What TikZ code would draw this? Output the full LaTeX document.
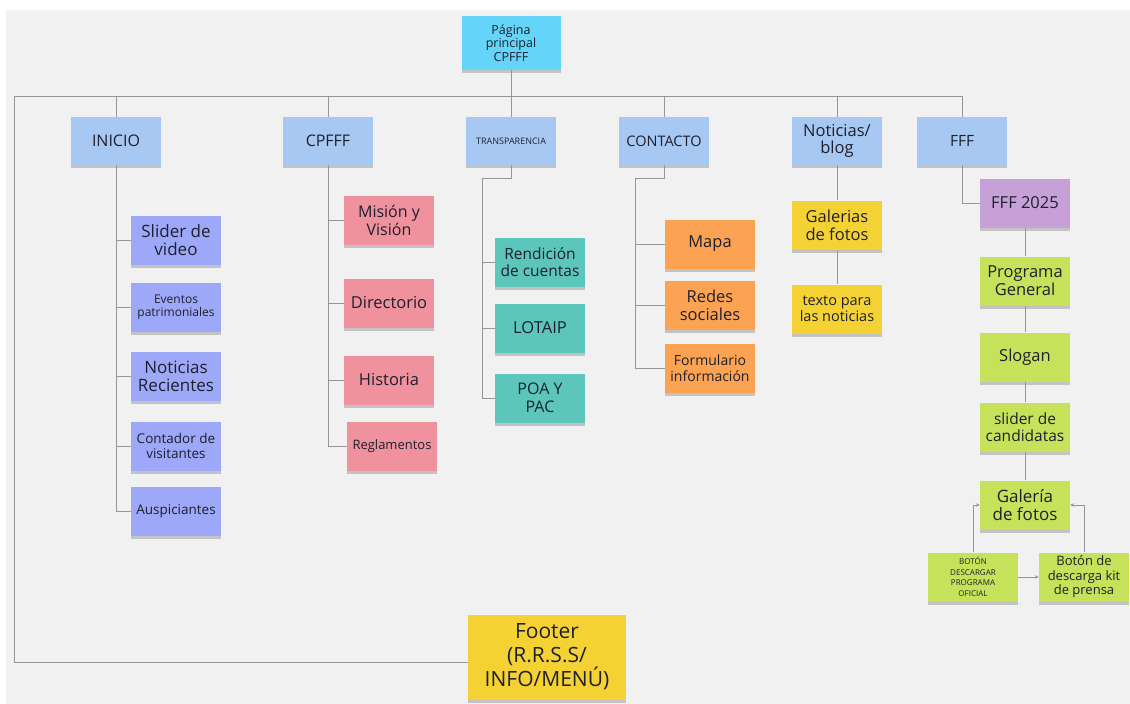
\documentclass[tikz,border=0pt]{standalone}
\usepackage{fontspec}
\setmainfont{Open Sans}
\usepackage{tikz}
\usetikzlibrary{shadows,arrows.meta}

\definecolor{paper}{RGB}{241,241,241}
\definecolor{ink}{RGB}{30,32,46}
\definecolor{wire}{RGB}{150,150,150}
\definecolor{homecyan}{RGB}{100,212,248}
\definecolor{menublue}{RGB}{167,200,242}
\definecolor{inicioblue}{RGB}{158,168,248}
\definecolor{cpfffpink}{RGB}{240,145,158}
\definecolor{transpteal}{RGB}{92,198,188}
\definecolor{contorange}{RGB}{251,163,82}
\definecolor{blogyellow}{RGB}{245,210,52}
\definecolor{ffflilac}{RGB}{200,160,216}
\definecolor{fffgreen}{RGB}{198,226,90}

\newcommand{\fz}[2]{\fontsize{#1}{#2}\selectfont}

\tikzset{
  note/.style={minimum width=90pt, minimum height=49pt, inner sep=1pt,
    align=center, text=ink,
    drop shadow={shadow xshift=0pt, shadow yshift=-3pt, opacity=.4}},
  menu/.style={note, fill=menublue, minimum height=48pt, font=\fz{16}{17}},
  kid/.style={note, font=\fz{16.5}{18}},
  link/.style={draw=wire, line width=.8pt},
  arr/.style={link, -{Stealth[length=4pt,width=3.5pt]}}
}

\begin{document}
\begin{tikzpicture}[x=1pt,y=-1pt]
  \useasboundingbox (0,0) rectangle (1130,704);
  \fill[white] (0,0) rectangle (1130,704);
  \fill[paper] (6,10) rectangle (1130,704);

  % top of the site
  \node[note, fill=homecyan, minimum width=99pt, minimum height=54pt, font=\fz{12.5}{13.5}] (home) at (511,43) {Página\\principal\\CPFFF};
  \node[menu] (inicio) at (116,141) {INICIO};
  \node[menu] (cpfff) at (328,141) {CPFFF};
  \node[menu, font=\fz{9}{10}] (transp) at (511,141) {TRANSPARENCIA};
  \node[menu, font=\fz{14.5}{16}] (contacto) at (664,141) {CONTACTO};
  \node[menu, font=\fz{16.5}{17}] (blog) at (837,141) {Noticias/\\blog};
  \node[menu, font=\fz{15.5}{17}] (fff) at (962,141) {FFF};

  \coordinate (barL) at (14,96);
  \coordinate (barR) at (962,96);
  \draw[link] (barL) -- (barR);
  \draw[link] (home) -- (transp);
  \foreach \n in {inicio,cpfff,contacto,blog,fff}
    \draw[link] (\n) -- (\n |- barL);

  % INICIO
  \node[kid, fill=inicioblue, font=\fz{17}{18}] (slider) at (176,240) {Slider de\\video};
  \node[kid, fill=inicioblue, font=\fz{12}{13}] (eventos) at (176,307) {Eventos\\patrimoniales};
  \node[kid, fill=inicioblue, font=\fz{17}{18}] (recientes) at (176,376) {Noticias\\Recientes};
  \node[kid, fill=inicioblue, font=\fz{13.5}{15}] (contador) at (176,446) {Contador de\\visitantes};
  \node[kid, fill=inicioblue, font=\fz{13.5}{15}] (ausp) at (176,511) {Auspiciantes};
  \foreach \n in {slider,eventos,recientes,contador,ausp}
    \draw[link] (inicio.south) |- (\n.west);

  % CPFFF
  \node[kid, fill=cpfffpink, font=\fz{16}{18}] (mision) at (389,220) {Misión y\\Visión};
  \node[kid, fill=cpfffpink] (directorio) at (389,303) {Directorio};
  \node[kid, fill=cpfffpink] (historia) at (389,380) {Historia};
  \node[kid, fill=cpfffpink, font=\fz{13}{14}] (reglas) at (392,446) {Reglamentos};
  \foreach \n in {mision,directorio,historia,reglas}
    \draw[link] (cpfff.south) |- (\n.west);

  % TRANSPARENCIA
  \node[kid, fill=transpteal, font=\fz{15.5}{17}] (rendicion) at (540,262) {Rendición\\de cuentas};
  \node[kid, fill=transpteal] (lotaip) at (540,328) {LOTAIP};
  \node[kid, fill=transpteal, font=\fz{16}{18}] (poa) at (540,398) {POA Y\\PAC};
  \coordinate (tk) at (482,178);
  \draw[link] (transp.south) |- (tk);
  \foreach \n in {rendicion,lotaip,poa}
    \draw[link] (tk) |- (\n.west);

  % CONTACTO
  \node[kid, fill=contorange] (mapa) at (710,244) {Mapa};
  \node[kid, fill=contorange, font=\fz{16.5}{18}] (redes) at (710,305) {Redes\\sociales};
  \node[kid, fill=contorange, font=\fz{14}{15.5}] (formulario) at (710,368) {Formulario\\información};
  \coordinate (ck) at (635,178);
  \draw[link] (contacto.south) |- (ck);
  \foreach \n in {mapa,redes,formulario}
    \draw[link] (ck) |- (\n.west);

  % Noticias/blog
  \node[kid, fill=blogyellow, font=\fz{16.5}{18}] (galerias) at (837,225) {Galerias\\de fotos};
  \node[kid, fill=blogyellow, font=\fz{14.5}{16}] (texto) at (837,309) {texto para\\las noticias};
  \draw[link] (blog) -- (galerias);
  \draw[link] (galerias) -- (texto);

  % FFF
  \node[kid, fill=ffflilac] (fff25) at (1025,203) {FFF 2025};
  \node[kid, fill=fffgreen, font=\fz{16.5}{18}] (programa) at (1025,281) {Programa\\General};
  \node[kid, fill=fffgreen] (slogan) at (1025,357) {Slogan};
  \node[kid, fill=fffgreen, font=\fz{15.5}{17}] (sliderc) at (1025,427) {slider de\\candidatas};
  \node[kid, fill=fffgreen, font=\fz{17}{18.5}] (galeria) at (1025,505) {Galería\\de fotos};
  \node[kid, fill=fffgreen, font=\fz{8}{10.5}] (btnprog) at (973,577) {BOTÓN\\DESCARGAR\\PROGRAMA\\OFICIAL};
  \node[kid, fill=fffgreen, font=\fz{13}{14.5}] (btnkit) at (1084,577) {Botón de\\descarga kit\\de prensa};
  \draw[link] (fff.south) |- (fff25.west);
  \draw[link] (fff25) -- (programa);
  \draw[link] (programa) -- (slogan);
  \draw[link] (slogan) -- (sliderc);
  \draw[link] (sliderc) -- (galeria);
  \draw[arr] (btnprog.north) |- (galeria.west);
  \draw[arr] (btnkit.north) |- (galeria.east);
  \draw[arr] (btnprog) -- (btnkit);

  % footer
  \node[note, fill=blogyellow, minimum width=158pt, minimum height=85pt, font=\fz{21}{24}] (footer) at (547,657) {Footer\\(R.R.S.S/\\INFO/MENÚ)};
  \draw[link] (barL) |- ([yshift=-5pt]footer.west);
\end{tikzpicture}
\end{document}
